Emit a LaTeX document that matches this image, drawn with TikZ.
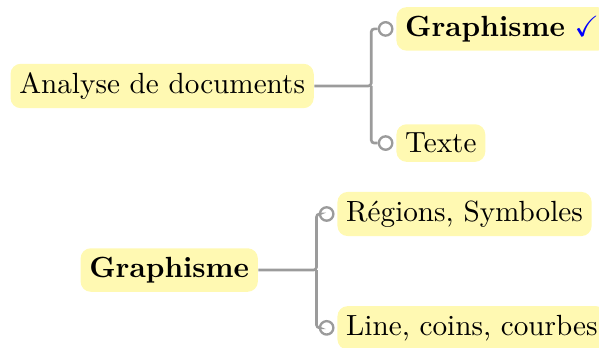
\documentclass[tikz,border=0pt]{standalone}
\usepackage{amssymb}
\usetikzlibrary{positioning}

\definecolor{noteyellow}{RGB}{255,249,178}
\definecolor{linegray}{RGB}{155,155,155}

\tikzset{
  topic/.style={fill=noteyellow, rounded corners=3.5pt, inner sep=3pt, anchor=west},
  dot/.style={circle, draw=linegray, fill=white, line width=0.8pt, minimum size=4.6pt, inner sep=0pt},
  conn/.style={draw=linegray, line width=0.9pt, rounded corners=1pt},
}

\begin{document}
\begin{tikzpicture}[x=1pt,y=1pt]
\useasboundingbox (0,0) rectangle (205.2,-118.9);

\node[topic] (ana) at (3.4,-29.45) {Analyse de documents};
\node[topic] (gra) at (135.6,-9.9) {\textbf{Graphisme} {\color{blue}$\checkmark$}};
\node[topic] (txt) at (135.6,-49) {Texte};
\node[dot, left=0.8pt of gra] (dgra) {};
\node[dot, left=0.8pt of txt] (dtxt) {};
\coordinate[right=19.5pt of ana.east] (fana);

\draw[conn] (ana.east) -- (fana) |- (dgra);
\draw[conn] (fana) |- (dtxt);

\node[topic] (gr2) at (27.4,-92.5) {\textbf{Graphisme}};
\node[topic] (reg) at (115.4,-73.3) {Régions, Symboles};
\node[topic] (lin) at (115.4,-112.3) {Line, coins, courbes};
\node[dot, left=0.8pt of reg] (dreg) {};
\node[dot, left=0.8pt of lin] (dlin) {};
\coordinate[right=19.9pt of gr2.east] (fgr2);

\draw[conn] (gr2.east) -- (fgr2) |- (dreg);
\draw[conn] (fgr2) |- (dlin);
\end{tikzpicture}
\end{document}
